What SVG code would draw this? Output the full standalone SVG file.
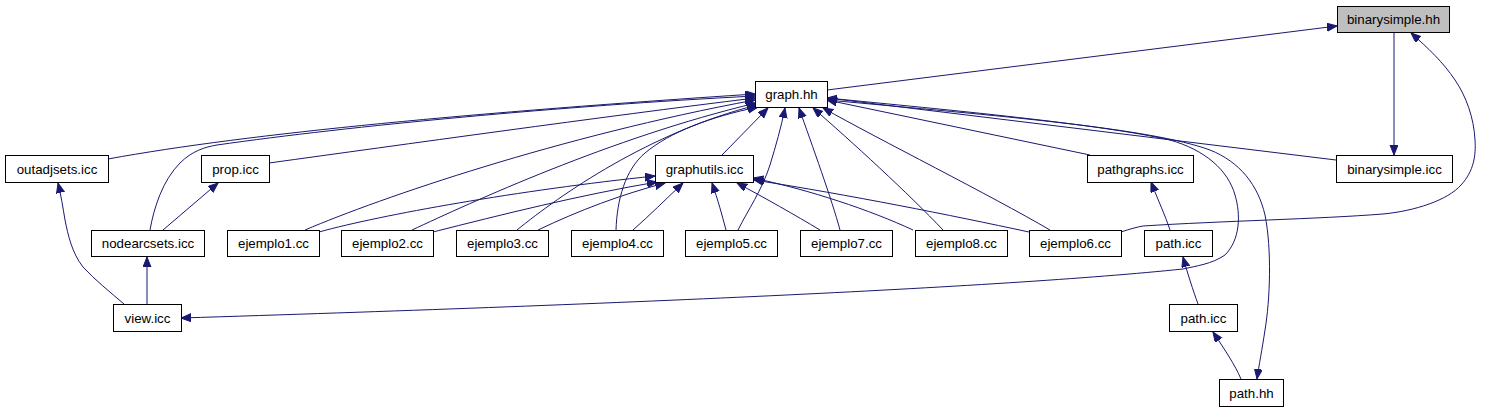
<svg xmlns="http://www.w3.org/2000/svg" width="1504" height="411" viewBox="0 0 1504 411">
<style>
.n rect{fill:#ffffff;stroke:#000000;stroke-width:1}
.n.root rect{fill:#bfbfbf}
.n text{font-family:"Liberation Sans",Arial,Helvetica,sans-serif;font-size:13.3px;fill:#000000;text-anchor:middle}
.e path{fill:none;stroke:#191970;stroke-width:1;marker-end:url(#ah)}
</style>
<defs>
<marker id="ah" markerUnits="userSpaceOnUse" markerWidth="11" markerHeight="9" refX="10" refY="4" orient="auto">
<path d="M0,0 L10,4 L0,8 z" fill="#191970" stroke="#191970" stroke-width="1"/>
</marker>
</defs>
<rect x="0" y="0" width="1504" height="411" fill="#ffffff"/>
<g id="edges" class="e">
<path d="M827,90 L1337,26"/>
<path d="M1394,32 L1394,155"/>
<path d="M1121,232 C1130,229 1137,227 1143,226 C1220,221 1320,219 1383,214 C1415,211 1448,200 1461,185 C1474,171 1476,155 1475,140 C1474,118 1466,96 1455,80 C1443,62 1428,48 1411,33"/>
<path d="M124,304 C110,292 95,280 83,267 C72,253 68,235 65,220 C63,208 61,195 58,183"/>
<path d="M147,304 L147,257"/>
<path d="M163,230 L218,183"/>
<path d="M108,159 C250,133 480,112 755,94"/>
<path d="M150,230 C154,207 163,180 180,163 C192,151 205,147 217,145 C350,126 560,106 755,96"/>
<path d="M269,163 C400,145 600,117 755,98"/>
<path d="M305,230 C380,198 560,136 755,100"/>
<path d="M412,230 C470,203 610,138 756,103"/>
<path d="M517,230 C560,195 650,132 757,105"/>
<path d="M616,230 C617,200 625,170 645,153 C670,132 710,117 758,107"/>
<path d="M722,155 L768,108"/>
<path d="M738,230 C748,210 762,190 770,165 C776,145 781,128 785,108"/>
<path d="M840,230 C832,200 812,145 799,108"/>
<path d="M943,230 C910,195 850,140 813,108"/>
<path d="M1050,230 C990,195 880,140 823,108"/>
<path d="M1090,155 L827,100"/>
<path d="M1336,160 L827,98"/>
<path d="M827,98 C950,110 1100,124 1170,140 C1205,150 1228,170 1235,195 C1241,215 1240,240 1225,255 C1212,264 1196,266 1183,269 C1000,288 600,305 181,318"/>
<path d="M827,100 C1000,116 1150,128 1210,150 C1240,162 1258,185 1265,215 C1272,250 1270,300 1265,330 C1262,350 1259,365 1257,379"/>
<path d="M1170,230 C1165,215 1158,200 1151,182"/>
<path d="M1198,304 C1193,290 1188,275 1183,257"/>
<path d="M1241,379 C1235,365 1225,350 1213,332"/>
<path d="M319,232 C380,215 520,190 655,176"/>
<path d="M433,232 C500,215 580,195 657,182"/>
<path d="M538,230 C580,210 620,195 665,183"/>
<path d="M633,230 C650,215 665,200 683,183"/>
<path d="M726,230 C722,215 718,200 712,183"/>
<path d="M820,230 C795,215 765,198 737,183"/>
<path d="M913,230 C870,210 810,190 753,178"/>
<path d="M1029,232 C950,215 850,195 754,180"/>
</g>
<g id="node-binarysimple-hh" class="n root"><rect x="1337.5" y="6.5" width="112" height="26"/><text x="1393.5" y="24">binarysimple.hh</text></g>
<g id="node-graph-hh" class="n"><rect x="755.5" y="81.5" width="72" height="26"/><text x="791.5" y="99">graph.hh</text></g>
<g id="node-outadjsets-icc" class="n"><rect x="5.5" y="155.5" width="103" height="27"/><text x="57" y="173.5">outadjsets.icc</text></g>
<g id="node-prop-icc" class="n"><rect x="201.5" y="155.5" width="68" height="27"/><text x="235.5" y="173.5">prop.icc</text></g>
<g id="node-graphutils-icc" class="n"><rect x="655.5" y="155.5" width="98" height="27"/><text x="704.5" y="173.5">graphutils.icc</text></g>
<g id="node-pathgraphs-icc" class="n"><rect x="1087.5" y="155.5" width="106" height="27"/><text x="1140.5" y="173.5">pathgraphs.icc</text></g>
<g id="node-binarysimple-icc" class="n"><rect x="1336.5" y="155.5" width="116" height="27"/><text x="1394.5" y="173.5">binarysimple.icc</text></g>
<g id="node-nodearcsets-icc" class="n"><rect x="91.5" y="230.5" width="113" height="26"/><text x="148" y="248">nodearcsets.icc</text></g>
<g id="node-ejemplo1-cc" class="n"><rect x="227.5" y="230.5" width="92" height="26"/><text x="273.5" y="248">ejemplo1.cc</text></g>
<g id="node-ejemplo2-cc" class="n"><rect x="341.5" y="230.5" width="92" height="26"/><text x="387.5" y="248">ejemplo2.cc</text></g>
<g id="node-ejemplo3-cc" class="n"><rect x="456.5" y="230.5" width="92" height="26"/><text x="502.5" y="248">ejemplo3.cc</text></g>
<g id="node-ejemplo4-cc" class="n"><rect x="571.5" y="230.5" width="92" height="26"/><text x="617.5" y="248">ejemplo4.cc</text></g>
<g id="node-ejemplo5-cc" class="n"><rect x="685.5" y="230.5" width="92" height="26"/><text x="731.5" y="248">ejemplo5.cc</text></g>
<g id="node-ejemplo7-cc" class="n"><rect x="800.5" y="230.5" width="92" height="26"/><text x="846.5" y="248">ejemplo7.cc</text></g>
<g id="node-ejemplo8-cc" class="n"><rect x="915.5" y="230.5" width="92" height="26"/><text x="961.5" y="248">ejemplo8.cc</text></g>
<g id="node-ejemplo6-cc" class="n"><rect x="1029.5" y="230.5" width="92" height="26"/><text x="1075.5" y="248">ejemplo6.cc</text></g>
<g id="node-path-icc-1" class="n"><rect x="1144.5" y="230.5" width="68" height="26"/><text x="1178.5" y="248">path.icc</text></g>
<g id="node-view-icc" class="n"><rect x="113.5" y="304.5" width="68" height="27"/><text x="147.5" y="322.5">view.icc</text></g>
<g id="node-path-icc-2" class="n"><rect x="1169.5" y="304.5" width="68" height="27"/><text x="1203.5" y="322.5">path.icc</text></g>
<g id="node-path-hh" class="n"><rect x="1219.5" y="379.5" width="64" height="27"/><text x="1251.5" y="397.5">path.hh</text></g>
</svg>
